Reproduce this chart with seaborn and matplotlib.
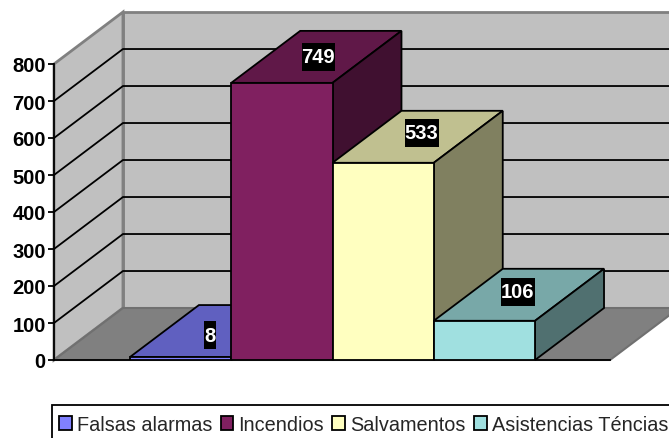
import numpy as np
import matplotlib
matplotlib.use('Agg')
import matplotlib.pyplot as plt
from matplotlib.patches import Polygon
from matplotlib.path import Path
import seaborn as sns

categories = ['Falsas alarmas', 'Incendios', 'Salvamentos', 'Asistencias Téncias']
values = [8, 749, 533, 106]
front_colors = ['#8080ff', '#802060', '#ffffc0', '#a0e0e0']
top_colors = ['#6060c0', '#601848', '#c0c090', '#78a8a8']
side_colors = ['#404080', '#401030', '#808060', '#507070']
yticks = [0, 100, 200, 300, 400, 500, 600, 700, 800]
# small shifts of the value boxes, in pixels at dpi 100
label_nudge = [(-5, -4), (2, 0), (4, 4), (-1, 3)]

sns.set_style('white')
plt.rcParams['font.family'] = 'Liberation Sans'

W, H = 669, 439
fig = plt.figure(figsize=(W / 100, H / 100), dpi=100)
ax = fig.add_axes([54 / W, (H - 361) / H, (610 - 54) / W, 296 / H])
ax.patch.set_alpha(0)

sns.barplot(x=categories, y=values, hue=categories, palette=front_colors,
            width=1, saturation=1, dodge=False, legend=False, ax=ax,
            edgecolor='black', linewidth=1.3)

x0, x1 = -1.25, 4.24
ax.set_xlim(x0, x1)
ax.set_ylim(0, 800)
# depth of the fake 3d box in data units
dx, dy = 0.681, 140.5


def poly(pts, color, z, edge='black', lw=1.3):
    ax.add_patch(Polygon(pts, closed=True, facecolor=color, edgecolor=edge,
                         linewidth=lw, zorder=z, clip_on=False))


def box(left, right, top, bottom):
    # box style with its own padding per side, in pixels
    def style(x, y, w, h, mutation_size):
        x_a, x_b = x - left, x + w + right
        y_a, y_b = y - bottom, y + h + top
        return Path([(x_a, y_a), (x_b, y_a), (x_b, y_b), (x_a, y_b), (x_a, y_a)],
                    closed=True)
    return style


# walls and floor
poly([(x0 + dx, dy), (x1 + dx, dy), (x1 + dx, 800 + dy), (x0 + dx, 800 + dy)],
     '#c0c0c0', 0.5, '#808080', 2)
poly([(x0, 0), (x0 + dx, dy), (x0 + dx, 800 + dy), (x0, 800)],
     '#c0c0c0', 0.5, '#808080', 2)
poly([(x0, 0), (x1, 0), (x1 + dx, dy), (x0 + dx, dy)], '#808080', 0.6, '#707070', 1.5)

# gridlines on both walls
for t in yticks[1:-1]:
    ax.plot([x0, x0 + dx, x1 + dx], [t, t + dy, t + dy], color='black', lw=1.3,
            zorder=1, clip_on=False)

bars = list(ax.patches)[:len(values)]
for i, b in enumerate(bars):
    l, r, v = b.get_x(), b.get_x() + b.get_width(), b.get_height()
    z = 3 + i
    b.set_zorder(z + 0.2)
    poly([(l, v), (r, v), (r + dx, v + dy), (l + dx, v + dy)], top_colors[i], z)
    poly([(r, 0), (r + dx, dy), (r + dx, v + dy), (r, v)], side_colors[i], z)
    ax.annotate(str(values[i]), xy=((l + r) / 2 + dx / 2, v + dy / 2),
                xytext=(label_nudge[i][0] * 0.72, label_nudge[i][1] * 0.72),
                textcoords='offset points', ha='center', va='center',
                color='white', fontweight='bold', fontsize=14.5, zorder=20,
                annotation_clip=False,
                bbox=dict(boxstyle=box(0, 0, 4.5, 4.5), facecolor='black', edgecolor='none'))

sns.despine(ax=ax, left=False, bottom=False, top=True, right=True)
for s in ['left', 'bottom']:
    ax.spines[s].set_color('black')
    ax.spines[s].set_linewidth(1.3)
    ax.spines[s].set_zorder(2.5)
ax.set_xticks([])
ax.set_yticks(yticks)
ax.tick_params(axis='y', left=True, length=4, width=1.3, color='black', pad=2,
               labelsize=14.5)
for lab in ax.get_yticklabels():
    lab.set_fontweight('bold')
    lab.set_color('black')

leg = fig.legend(bars, categories, loc='upper left', ncol=4,
                 bbox_to_anchor=(52 / W, 1 - 409 / H), borderaxespad=0,
                 fontsize=14.3, frameon=True, fancybox=False, framealpha=1,
                 edgecolor='black', handlelength=0.65, handleheight=0.65,
                 handletextpad=0.25, columnspacing=0.42, borderpad=0.35)
leg.get_frame().set_linewidth(1.3)
# the frame runs off the bottom of the picture in the original
leg.get_frame().set_boxstyle(box(0, 0, 3, 12))

fig.savefig('out.png', dpi=100)
